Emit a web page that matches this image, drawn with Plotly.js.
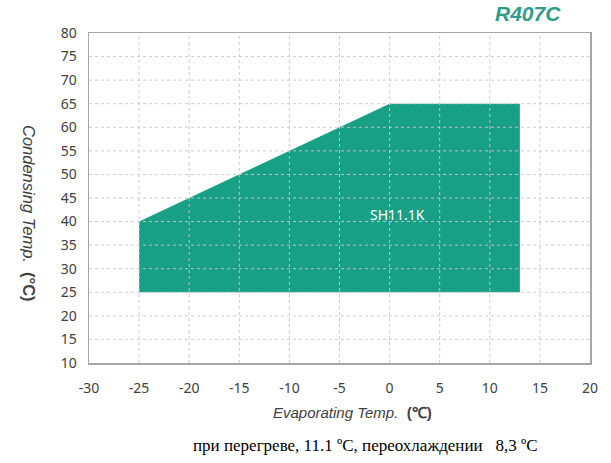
<!DOCTYPE html>
<html><head><meta charset="utf-8">
<script src="https://cdn.plot.ly/plotly-3.0.1.min.js"></script>
<style>body{margin:0;background:#fff}#c{width:611px;height:463px}</style>
</head><body><div id="c"></div>
<script>
const envelopeX = [-25, -25, 0, 13, 13, -25];
const envelopeY = [25, 40, 65, 65, 25, 25];
const xTicks = [-30,-25,-20,-15,-10,-5,0,5,10,15,20];
const yTicks = [10,15,20,25,30,35,40,45,50,55,60,65,70,75,80];
const seriesLabel = 'SH11.1K';
const labelPos = [0.8, 41.6];

const trace = {
  x: envelopeX, y: envelopeY, type: 'scatter', mode: 'lines',
  fill: 'toself', fillcolor: '#17a085', line: {width: 0, color: '#17a085'},
  hoverinfo: 'skip', showlegend: false
};
const tickFont = {family: 'Noto Sans, Arial, sans-serif', size: 14, color: '#404040'};
const axisCommon = {
  showgrid: false, zeroline: false, showline: true, mirror: true, linecolor: '#a6a6a6', linewidth: 1.5,
  layer: 'above traces', tickfont: tickFont, ticks: '', ticklen: 0, fixedrange: true
};
const gridLine = {color: 'rgba(200,200,200,0.9)', width: 1, dash: '3px,3px'};
const shapes = [];
xTicks.slice(1, -1).forEach(v => shapes.push({type: 'line', layer: 'above', xref: 'x', yref: 'paper', x0: v, x1: v, y0: 0, y1: 1, line: gridLine}));
yTicks.slice(1, -1).forEach(v => shapes.push({type: 'line', layer: 'above', xref: 'paper', yref: 'y', x0: 0, x1: 1, y0: v, y1: v, line: gridLine}));

const layout = {
  width: 611, height: 463,
  margin: {l: 89, r: 21, t: 33, b: 100},
  paper_bgcolor: '#fff', plot_bgcolor: '#fff',
  showlegend: false,
  shapes: shapes,
  xaxis: Object.assign({range: [-30, 20], tickvals: xTicks, ticktext: xTicks.map(String), ticklabelstandoff: 12}, axisCommon),
  yaxis: Object.assign({range: [10, 80], tickvals: yTicks, ticktext: yTicks.map(String), ticklabelstandoff: 8}, axisCommon),
  annotations: [
    {x: labelPos[0], y: labelPos[1], xref: 'x', yref: 'y', text: seriesLabel, showarrow: false,
     font: {family: 'Noto Sans, Arial, sans-serif', size: 14, color: '#ffffff'}},
    {xref: 'paper', yref: 'paper', x: (352-89)/501, y: -(412-363)/330, xanchor: 'center', yanchor: 'middle',
     text: '<i>Evaporating Temp.</i>  <b>(℃)</b>', showarrow: false,
     font: {family: 'Liberation Sans, Arial, sans-serif', size: 15, color: '#404040'}},
    {xref: 'paper', yref: 'paper', x: -(89-29)/501, y: (363-213)/330, xanchor: 'center', yanchor: 'middle',
     textangle: 90, text: '<i>Condensing Temp.</i>  <b>(°C)</b>', showarrow: false,
     font: {family: 'Liberation Sans, Arial, sans-serif', size: 16.5, color: '#404040'}},
    {xref: 'paper', yref: 'paper', x: (365-89)/501, y: -(445-363)/330, xanchor: 'center', yanchor: 'middle',
     text: 'при перегреве, 11.1 ºС, переохлаждении   8,3 ºС', showarrow: false,
     font: {family: 'Liberation Serif, Times New Roman, serif', size: 17, color: '#000'}},
    {xref: 'paper', yref: 'paper', x: (528-89)/501, y: 1 + (33-13)/330, xanchor: 'center', yanchor: 'middle',
     text: '<b><i>R407C</i></b>', showarrow: false,
     font: {family: 'Liberation Sans, Arial, sans-serif', size: 21, color: '#2e9c8a'}}
  ]
};
Plotly.newPlot('c', [trace], layout, {staticPlot: true, displayModeBar: false});
</script></body></html>
